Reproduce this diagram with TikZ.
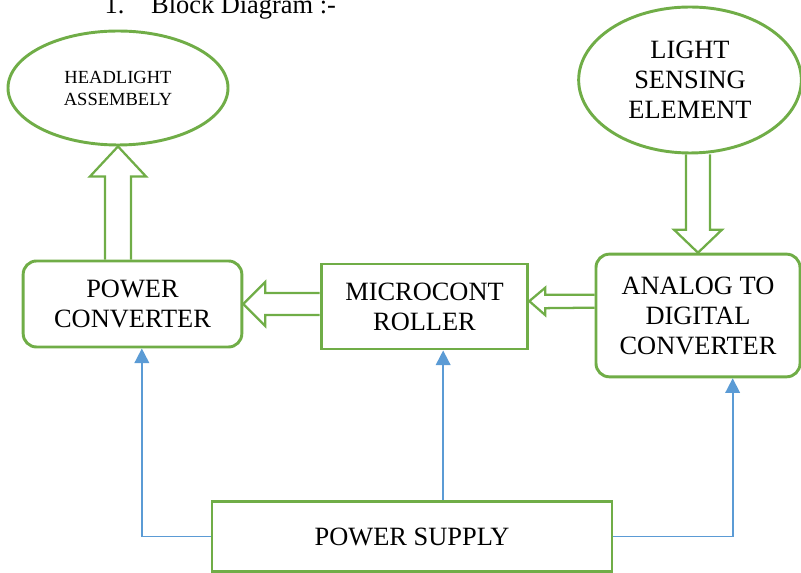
\documentclass[tikz,border=0pt]{standalone}
\usepackage{fontspec}
\setmainfont{Liberation Serif}
\usetikzlibrary{arrows.meta,calc,shapes.geometric}
\definecolor{leaf}{HTML}{70AD47}
\definecolor{wire}{HTML}{5B9BD5}

\begin{document}
\begin{tikzpicture}[
  x=.75pt, y=-.75pt,
  font=\fontsize{19.8}{22.5}\selectfont,
  block/.style={draw=leaf, line width=2.2pt, align=center, inner sep=2pt},
  softblock/.style={block, rounded corners=10pt},
  bubble/.style={block, ellipse, inner sep=0pt},
  hollow/.style={draw=leaf, line width=1.7pt, line join=miter},
  supply/.style={draw=wire, line width=1.3pt, -{Triangle[length=11pt,width=11pt]}}
]
\useasboundingbox (0,0) rectangle (801,573);

\node[anchor=base west] (title) at (100,14) {1.\hspace{20pt}Block Diagram :-};

% Top row: output lamp and input sensor
\node[bubble, minimum width=165pt, minimum height=85.5pt,
  font=\fontsize{13.9}{16.5}\selectfont] (head) at (118,88)
  {HEADLIGHT\\ASSEMBELY\hspace{10pt}};
\node[bubble, minimum width=167pt, minimum height=109.5pt] (sensor) at (690,80)
  {LIGHT\\SENSING\\ELEMENT};

% Middle row
\node[softblock, minimum width=164pt, minimum height=64.5pt] (conv) at (132.5,304)
  {POWER\\CONVERTER};
\node[block, minimum width=155pt, minimum height=63.75pt] (mcu) at (424.5,306.5)
  {MICROCONT\\ROLLER};
\node[softblock, minimum width=153pt, minimum height=92pt] (adc) at (698,315.5)
  {ANALOG TO\\DIGITAL\\CONVERTER};

\node[block, minimum width=300pt, minimum height=53pt] (psu) at (412,536.5)
  {POWER SUPPLY};

% Hollow block arrows carry the signal path
\draw[hollow] ($(head.south |- conv.north)+(-13,0)$) -- ($(head.south)+(-13,30)$)
  -- ++(-15,0) -- (head.south) -- ++(28,30) -- ++(-15,0)
  -- ($(head.south |- conv.north)+(13,0)$);
\draw[hollow] ($(adc.north |- sensor.south)+(-12,0)$) -- ($(adc.north)+(-12,-23)$)
  -- ++(-12,0) -- (adc.north) -- ++(24,-23) -- ++(-12,0)
  -- ($(adc.north |- sensor.south)+(12,0)$);
\draw[hollow] ($(conv.east -| mcu.west)+(0,-11)$) -- ($(conv.east)+(22,-11)$)
  -- ++(0,-11) -- (conv.east) -- ++(22,22) -- ++(0,-11)
  -- ($(conv.east -| mcu.west)+(0,11)$);
\coordinate (mcuin) at ([yshift=4pt]mcu.east);
\draw[hollow] ($(mcuin -| adc.west)+(0,-6.5)$) -- ($(mcuin)+(16,-6.5)$)
  -- ++(0,-7) -- (mcuin) -- ++(16,14) -- ++(0,-7)
  -- ($(mcuin -| adc.west)+(0,6.5)$);

% Supply feeds
\draw[supply] (psu.west) -| ([xshift=7pt]conv.south);
\draw[supply] ([xshift=14pt]mcu.south |- psu.north) -- ([xshift=14pt]mcu.south);
\draw[supply] (psu.east) -| ([xshift=26pt]adc.south);
\end{tikzpicture}
\end{document}
